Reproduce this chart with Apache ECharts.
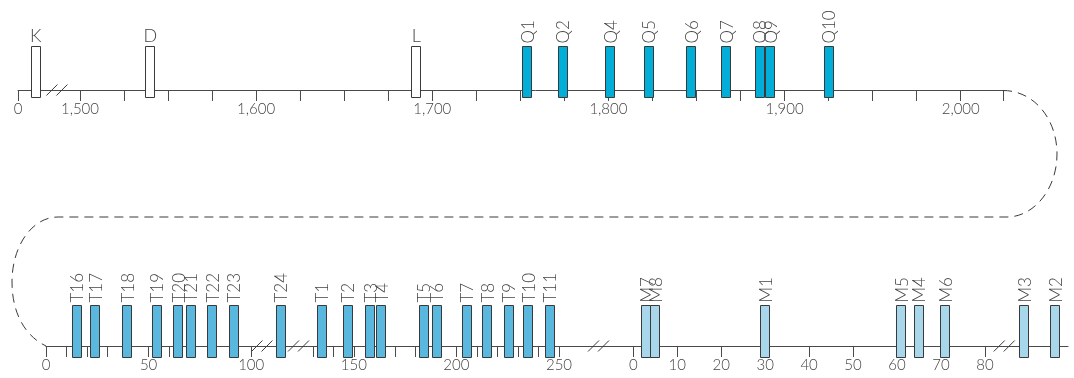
<!DOCTYPE html>
<html><head><meta charset="utf-8">
<script src="https://cdn.jsdelivr.net/npm/echarts@6/dist/echarts.min.js"></script>
<style>html,body{margin:0;padding:0;background:#fff}#c{width:1074px;height:378px}</style>
</head><body><div id="c"></div>
<script>
// ---- data ----
const kNames = ['K'];
const kValues = [10];
const openNames = ['D', 'L'];
const openValues = [1540, 1691];
const qNames = ['Q1','Q2','Q4','Q5','Q6','Q7','Q8','Q9','Q10'];
const qValues = [1754, 1774, 1801, 1823, 1847, 1867, 1886, 1892, 1925];
const tNames = ['T16','T17','T18','T19','T20','T21','T22','T23','T24','T1','T2','T3','T4','T5','T6','T7','T8','T9','T10','T11'];
const tValues = [15, 24, 39.5, 54, 64.5, 70.5, 81, 91.5, 114.5, 134.5, 147, 158, 163.5, 184, 190.5, 205, 215, 225.5, 235, 245.5];
const mNames = ['M7','M8','M1','M5','M4','M6','M3','M2'];
const mValues = [3, 5, 30, 61, 65, 71, 89, 96];

// tick labels / ticks
const topLeftLabels = [0];
const topLeftTicks = [0];
const topLabels = [1500, 1600, 1700, 1800, 1900, 2000];
const topTicks = [1500,1525,1550,1575,1600,1625,1650,1675,1700,1725,1750,1775,1800,1825,1850,1875,1900,1925,1950,1975,2000,2024];
const tLabels = [0, 50, 100, 150, 200, 250];
const tTicks = [0,10,20,30,40,50,60,70,80,90,100,130,140,150,160,170,180,190,200,210,220,230,240,250];
const mLabels = [0, 10, 20, 30, 40, 50, 60, 70, 80];
const mTicks = [0, 10, 20, 30, 40, 50, 60, 70, 80];

// axis break positions (axis values)
const topLeftBreaks = [22.4];
const tBreaks = [105.5, 123.3, 269.5];
const mBreaks = [84.5];

// ---- styles ----
const INK = '#3a3a3a';
const AXIS = '#4a4a4a';
const TXT = '#444444';
const FONT = 'Lato, "Open Sans", sans-serif';
const C_OPEN = '#ffffff';
const C_Q = '#02add8';
const C_T = '#5ab8de';
const C_M = '#a8d6eb';

function axis(grid, min, max, labels, ticks) {
  return {
    type: 'value', gridIndex: grid, min: min, max: max, position: 'bottom',
    axisLine: {show: true, onZero: false, lineStyle: {color: AXIS, width: 1}},
    axisTick: {show: true, length: 11, customValues: ticks, lineStyle: {color: AXIS, width: 1}},
    axisLabel: {show: true, customValues: labels, margin: 12, color: TXT, fontSize: 15, fontWeight: 300, fontFamily: FONT,
      formatter: v => Number(v).toLocaleString('en-US')},
    splitLine: {show: false}
  };
}
function yaxis(grid) {
  return {type: 'value', gridIndex: grid, min: 0, max: 1, show: false};
}

function barSeries(axisIdx, names, values, fill, up, down, vertical) {
  return {
    type: 'custom', xAxisIndex: axisIdx, yAxisIndex: axisIdx, clip: false, z: 3,
    data: values.map(v => [v, 0]),
    renderItem: function (params, api) {
      const x = api.coord([api.value(0), 0])[0];
      const cs = params.coordSys;
      const y0 = cs.y + cs.height;
      const left = Math.round(x - 5) + 0.5;
      const top = Math.round(y0 - up) + 0.5;
      const name = names[params.dataIndex];
      const label = vertical ? {
        type: 'text', x: x + 1, y: top - 3, rotation: Math.PI / 2,
        style: {text: name, fill: TXT, font: '300 17px ' + FONT, align: 'left', verticalAlign: 'middle'}
      } : {
        type: 'text', x: x, y: top - 1,
        style: {text: name, fill: TXT, font: '300 18px ' + FONT, align: 'center', verticalAlign: 'bottom'}
      };
      return {
        type: 'group',
        children: [
          {type: 'rect', shape: {x: left, y: top, width: 9, height: up + down},
            style: {fill: fill, stroke: INK, lineWidth: 1}},
          label
        ]
      };
    }
  };
}

function breakSeries(axisIdx, values) {
  return {
    type: 'custom', xAxisIndex: axisIdx, yAxisIndex: axisIdx, clip: false, z: 5,
    data: values.map(v => [v, 0]),
    renderItem: function (params, api) {
      const x = api.coord([api.value(0), 0])[0];
      const cs = params.coordSys;
      const y = cs.y + cs.height;
      const s = {stroke: INK, lineWidth: 1};
      return {
        type: 'group',
        children: [
          {type: 'line', shape: {x1: x - 11, y1: y + 5.5, x2: x, y2: y - 5.5}, style: s},
          {type: 'line', shape: {x1: x - 1, y1: y + 5.5, x2: x + 10, y2: y - 5.5}, style: s}
        ]
      };
    }
  };
}

const connector = 'M 1003 90.5 C 1034 90.5 1057 119 1057 154 C 1057 189 1034 217 1007 217 ' +
  'L 58 217 C 32 217 12 246 12 282 C 12 313 25 336 46 346';

const connectorSeries = {
  type: 'custom', xAxisIndex: 0, yAxisIndex: 0, clip: false, z: 1, silent: true,
  data: [[0, 0]],
  renderItem: function () {
    return {
      type: 'path',
      shape: {pathData: connector},
      style: {fill: null, stroke: INK, lineWidth: 1, lineDash: [9, 6]}
    };
  }
};

const option = {
  animation: false,
  backgroundColor: '#ffffff',
  grid: [
    {left: 18, top: 40, width: 50, height: 50},
    {left: 68, top: 40, width: 935, height: 50},
    {left: 46, top: 296, width: 553, height: 50},
    {left: 599, top: 296, width: 469, height: 50}
  ],
  xAxis: [
    axis(0, 0, 28.4, topLeftLabels, topLeftTicks),
    axis(1, 1493.2, 2024, topLabels, topTicks),
    axis(2, 0, 269.5, tLabels, tTicks),
    axis(3, -7.8, 98.9, mLabels, mTicks)
  ],
  yAxis: [yaxis(0), yaxis(1), yaxis(2), yaxis(3)],
  series: [
    connectorSeries,
    barSeries(0, kNames, kValues, C_OPEN, 44, 7, false),
    barSeries(1, openNames, openValues, C_OPEN, 44, 7, false),
    barSeries(1, qNames, qValues, C_Q, 44, 7, true),
    barSeries(2, tNames, tValues, C_T, 41, 11, true),
    barSeries(3, mNames, mValues, C_M, 41, 11, true),
    breakSeries(0, topLeftBreaks),
    breakSeries(2, tBreaks),
    breakSeries(3, mBreaks)
  ]
};

const chart = echarts.init(document.getElementById('c'), null, {renderer: 'canvas'});
chart.setOption(option);
</script>
</body></html>
